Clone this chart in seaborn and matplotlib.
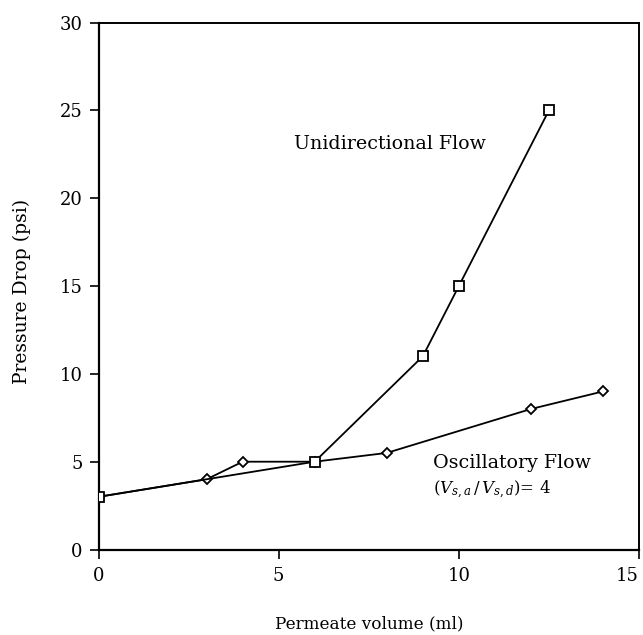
import matplotlib
matplotlib.use("Agg")
import matplotlib.pyplot as plt
import seaborn as sns
import pandas as pd

# Unidirectional flow measurements
uni_volume = [0, 6, 9, 10, 12.5]
uni_pressure = [3, 5, 11, 15, 25]

# Oscillatory flow measurements
osc_volume = [0, 3, 4, 6, 8, 12, 14]
osc_pressure = [3, 4, 5, 5, 5.5, 8, 9]

x_ticks = [0, 5, 10, 15]
y_ticks = [0, 5, 10, 15, 20, 25, 30]

sns.set_theme(style="ticks")
plt.rcParams["font.family"] = ["DejaVu Serif"]
plt.rcParams["mathtext.fontset"] = "dejavuserif"
plt.rcParams["text.color"] = "black"
plt.rcParams["axes.labelcolor"] = "black"

uni = pd.DataFrame({"volume": uni_volume, "pressure": uni_pressure})
osc = pd.DataFrame({"volume": osc_volume, "pressure": osc_pressure})

fig = plt.figure(figsize=(6.43, 6.35), dpi=100)
ax = fig.add_axes([0.1532, 0.1346, 0.8406, 0.8299])

sns.lineplot(data=osc, x="volume", y="pressure", sort=False, ax=ax,
             color="black", linewidth=1.3, marker="D", markersize=5.4,
             markerfacecolor="white", markeredgecolor="black",
             markeredgewidth=1.3, zorder=2)
sns.lineplot(data=uni, x="volume", y="pressure", sort=False, ax=ax,
             color="black", linewidth=1.3, marker="s", markersize=7,
             markerfacecolor="white", markeredgecolor="black",
             markeredgewidth=1.3, zorder=3)

ax.set_xlim(0, 15)
ax.set_ylim(0, 30)
ax.set_xticks(x_ticks)
ax.set_yticks(y_ticks)
ax.tick_params(axis="both", direction="out", length=6.5, width=1.2,
               labelsize=13, colors="black")
ax.tick_params(axis="y", pad=5)
ax.tick_params(axis="x", pad=6)
# keep the last x tick label inside the figure
ax.get_xticklabels()[-1].set_horizontalalignment("right")

for side in ["left", "bottom"]:
    ax.spines[side].set_linewidth(1.6)
for side in ["top", "right"]:
    ax.spines[side].set_linewidth(1.4)
for sp in ax.spines.values():
    sp.set_color("black")

ax.set_xlabel("Permeate volume (ml)", fontsize=12.2, va="center")
ax.xaxis.set_label_coords(0.5, -0.1414)
ax.set_ylabel("Pressure Drop (psi)", fontsize=13.5, va="center")
ax.yaxis.set_label_coords(-0.1415, 0.49)

ax.text(5.43, 23.1, "Unidirectional Flow", fontsize=13.7, ha="left", va="center")
ax.text(9.28, 4.63, "Oscillatory Flow", fontsize=13.7, ha="left", va="baseline")
ax.text(9.28, 3.15, r"$(V_{s,a}\,/\,V_{s,d})$= 4", fontsize=12,
        ha="left", va="baseline")

fig.savefig("out.png", dpi=100)
